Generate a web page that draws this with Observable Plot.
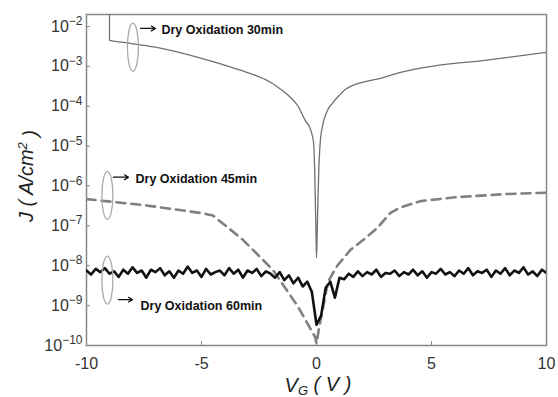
<!DOCTYPE html>
<html><head><meta charset="utf-8">
<script src="https://cdn.jsdelivr.net/npm/d3@7"></script>
<script src="https://cdn.jsdelivr.net/npm/@observablehq/plot@0.6"></script>
<style>body{margin:0;background:#fff;} svg{display:block}</style>
</head><body><div id="chart"></div>
<script>
// tick labels
const xTicks = [-10, -5, 0, 5, 10];
const yTickExps = [-2, -3, -4, -5, -6, -7, -8, -9, -10];

// Dry oxidation 30 min (V, log10 J)
const v30 = [-9, -9, -8.4, -7, -5, -4, -2.87, -2, -1.5, -1.13, -0.8, -0.5, -0.25, -0.13, -0.08, -0.05, -0.02, 0, 0.03, 0.06, 0.1, 0.17, 0.3, 0.48, 0.7, 1.0, 1.25, 1.6, 2.0, 2.78, 3.65, 5, 7.3, 10];
const logJ30 = [-1.7, -2.35, -2.4, -2.52, -2.8, -2.97, -3.18, -3.4, -3.6, -3.78, -4.0, -4.35, -4.6, -4.9, -5.6, -6.4, -7.2, -7.8, -7.2, -6.4, -5.6, -4.85, -4.4, -4.1, -3.92, -3.72, -3.58, -3.47, -3.4, -3.3, -3.15, -3.0, -2.85, -2.65];

// Dry oxidation 45 min
const v45 = [-10, -7.5, -5, -4.5, -3.2, -1.9, -0.8, -0.05, 0, 0.1, 0.5, 0.9, 1.48, 2.04, 2.65, 3.2, 3.6, 4.52, 6.1, 8.3, 10];
const logJ45 = [-6.33, -6.48, -6.68, -6.74, -7.35, -8.1, -9.03, -9.8, -9.95, -9.6, -8.4, -8.0, -7.6, -7.35, -7.05, -6.68, -6.55, -6.38, -6.28, -6.2, -6.17];

// Dry oxidation 60 min (V sweep step 0.2 V)
const v60 = d3.range(101).map(i => +(-10 + 0.2 * i).toFixed(1));
const logJ60 = [
  -8.12,-8.22,-8.08,-8.16,-8.06,-8.20,-8.14,-8.28,-8.10,-8.20,
  -8.04,-8.18,-8.12,-8.30,-8.10,-8.16,-8.06,-8.24,-8.14,-8.30,
  -8.12,-8.20,-8.02,-8.18,-8.12,-8.28,-8.08,-8.22,-8.16,-8.12,
  -8.24,-8.06,-8.20,-8.10,-8.30,-8.12,-8.18,-8.08,-8.26,-8.14,
  -8.20,-8.30,-8.16,-8.36,-8.24,-8.44,-8.30,-8.52,-8.40,-8.66,
  -9.48,-9.25,-8.55,-8.40,-8.80,-8.30,-8.34,-8.20,-8.28,-8.14,
  -8.26,-8.16,-8.22,-8.10,-8.28,-8.18,-8.20,-8.12,-8.26,-8.16,
  -8.22,-8.10,-8.24,-8.14,-8.30,-8.16,-8.20,-8.08,-8.22,-8.16,
  -8.26,-8.12,-8.20,-8.06,-8.24,-8.14,-8.18,-8.10,-8.28,-8.12,
  -8.20,-8.06,-8.24,-8.12,-8.18,-8.04,-8.22,-8.14,-8.26,-8.10,
  -8.18
];

// annotations
const annLabels = ["Dry Oxidation 30min", "Dry Oxidation 45min", "Dry Oxidation 60min"];
const annEllipseV = [-7.96, -9.07, -9.07];
const annEllipseLogJ = [-2.53, -6.25, -8.375];
const annArrowV1 = [-7.65, -8.83, -8.61];
const annArrowV2 = [-7.0, -8.17, -8.0];
const annArrowLogJ = [-2.05, -5.78, -8.85];
const annTextV = [-6.74, -7.87, -7.65];
const annTextLogJ = [-2.1, -5.83, -9.0];

const toRows = (vs, ls) => vs.map((v, i) => ({V: v, J: 10 ** ls[i]}));
const d30 = toRows(v30, logJ30);
const d45 = toRows(v45, logJ45);
const d60 = toRows(v60, logJ60);
const ann = annLabels.map((t, i) => ({
  label: t,
  ex: annEllipseV[i], ey: 10 ** annEllipseLogJ[i],
  ax1: annArrowV1[i], ax2: annArrowV2[i], ay: 10 ** annArrowLogJ[i],
  tx: annTextV[i], ty: 10 ** annTextLogJ[i]
}));

const plot = Plot.plot({
  width: 558, height: 397,
  marginLeft: 86, marginRight: 12, marginTop: 14, marginBottom: 52,
  style: {fontFamily: "'Liberation Sans', Arial, sans-serif", fontSize: "16px", color: "#333", background: "#fff"},
  x: {domain: [-10, 10]},
  y: {type: "log", domain: [1e-10, 10 ** -1.7]},
  marks: [
    Plot.axisX({ticks: xTicks, tickFormat: d => String(d), tickSize: -4, tickPadding: 16, label: null, stroke: "#888", fontSize: 16}),
    Plot.axisY({ticks: yTickExps.map(e => 10 ** e), tickFormat: d => "10|" + Math.round(Math.log10(d)), tickSize: -4, tickPadding: 8, label: null, stroke: "#888", fontSize: 16}),
    Plot.frame({stroke: "#888", strokeWidth: 1.5}),
    Plot.line(d30, {x: "V", y: "J", stroke: "#707070", strokeWidth: 1.3, curve: "monotone-x", clip: true}),
    Plot.line(d45, {x: "V", y: "J", stroke: "#808080", strokeWidth: 2.6, strokeDasharray: "9,6", clip: true}),
    Plot.line(d60, {x: "V", y: "J", stroke: "#111", strokeWidth: 2.6, clip: true}),
    (index, scales) => {
      const g = d3.create("svg:g");
      for (const a of ann) {
        g.append("ellipse")
          .attr("cx", scales.x(a.ex)).attr("cy", scales.y(a.ey))
          .attr("rx", 5.5).attr("ry", 24)
          .attr("fill", "none").attr("stroke", "#aaa").attr("stroke-width", 1.3);
      }
      return g.node();
    },
    Plot.arrow(ann, {x1: "ax1", x2: "ax2", y1: "ay", y2: "ay", stroke: "#111", strokeWidth: 1.2, headLength: 6}),
    Plot.text(ann, {x: "tx", y: "ty", text: "label", textAnchor: "start", fontWeight: "bold", fontSize: 12.5, fill: "#111"})
  ]
});

// superscript tick labels
d3.select(plot).selectAll('g[aria-label="y-axis tick label"] text').each(function() {
  const [base, exp] = this.textContent.split("|");
  const t = d3.select(this);
  t.text(null);
  t.append("tspan").text(base);
  t.append("tspan").attr("dy", "-0.55em").attr("font-size", "12px").text(exp.replace("-", "\u2212"));
});

const svg = d3.select(plot);
// y axis label
const yl = svg.append("text")
  .attr("transform", "translate(33,176) rotate(-90)")
  .attr("text-anchor", "middle")
  .attr("font-family", "'Liberation Sans', Arial, sans-serif")
  .attr("font-size", 20).attr("font-style", "italic").attr("fill", "#222");
yl.append("tspan").text("J ( A/cm");
yl.append("tspan").attr("dy", "-0.5em").attr("font-size", 13).text("2");
yl.append("tspan").attr("dy", "0.5em").text(" )");
// x axis label
const xl = svg.append("text")
  .attr("x", 318).attr("y", 392)
  .attr("text-anchor", "middle")
  .attr("font-family", "'Liberation Sans', Arial, sans-serif")
  .attr("font-size", 20).attr("font-style", "italic").attr("fill", "#222");
xl.append("tspan").text("V");
xl.append("tspan").attr("dy", "0.2em").attr("font-size", 13).text("G");
xl.append("tspan").attr("dy", "-0.2em").text(" ( V )");

document.getElementById("chart").appendChild(plot);
</script>
</body></html>
